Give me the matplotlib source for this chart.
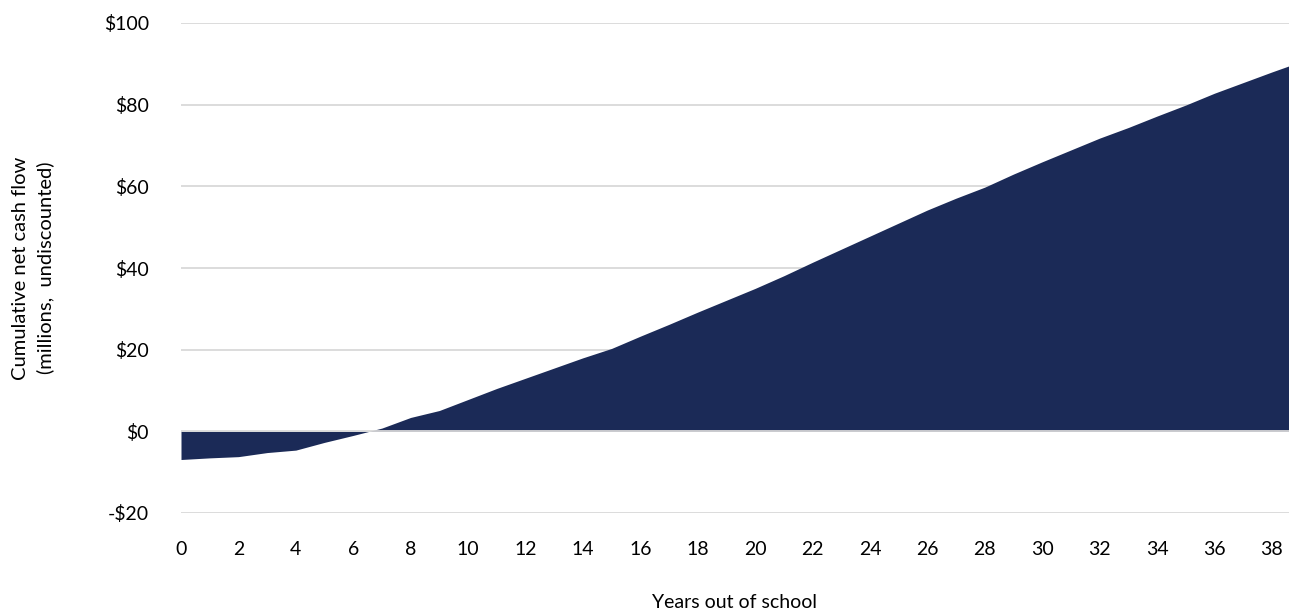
import matplotlib
matplotlib.use("Agg")
import matplotlib.pyplot as plt
from matplotlib.ticker import FuncFormatter

# 졸업 후 연차별 누적 순현금흐름 (백만 달러, 비할인)
years = list(range(0, 40))
cum_cash = [-6.9, -6.5, -6.2, -5.2, -4.6, -2.7, -1.0, 0.8, 3.4, 5.1,
            7.8, 10.5, 13.0, 15.5, 18.0, 20.3, 23.3, 26.2, 29.2, 32.1,
            35.0, 38.1, 41.4, 44.6, 47.8, 51.0, 54.2, 57.1, 59.8, 63.0,
            66.0, 68.9, 71.8, 74.4, 77.2, 79.9, 82.8, 85.4, 88.0, 90.5]
y_ticks = [-20, 0, 20, 40, 60, 80, 100]
x_ticks = list(range(0, 39, 2))

FILL = "#1b2a57"
GRID = "#d9d9d9"

plt.rcParams["font.family"] = ["Lato", "DejaVu Sans"]

fig = plt.figure(figsize=(12.89, 6.14), dpi=100)
ax = fig.add_axes([181 / 1289, 101 / 614, 1 - 181 / 1289, 490 / 614])

ax.fill_between(years, cum_cash, 0, color=FILL, lw=0, zorder=2)
for v in y_ticks:
    ax.axhline(v, color=GRID, lw=1.3, zorder=1 if v != 0 else 3)

ax.set_xlim(0, 38.6)
ax.set_ylim(-20, 100)
ax.set_yticks(y_ticks)
ax.set_xticks(x_ticks)
ax.yaxis.set_major_formatter(FuncFormatter(
    lambda v, _: f"-${abs(v):.0f}" if v < 0 else f"${v:.0f}"))
ax.tick_params(length=0, labelsize=14, colors="#000000")
ax.tick_params(axis="y", pad=23)
ax.tick_params(axis="x", pad=20)
for s in ax.spines.values():
    s.set_visible(False)

ax.set_ylabel("Cumulative net cash flow\n(millions,  undiscounted)",
              fontsize=14.5, labelpad=36, linespacing=1.45)
ax.set_xlabel("Years out of school", fontsize=14, labelpad=26)

fig.savefig("out.png", dpi=100)
